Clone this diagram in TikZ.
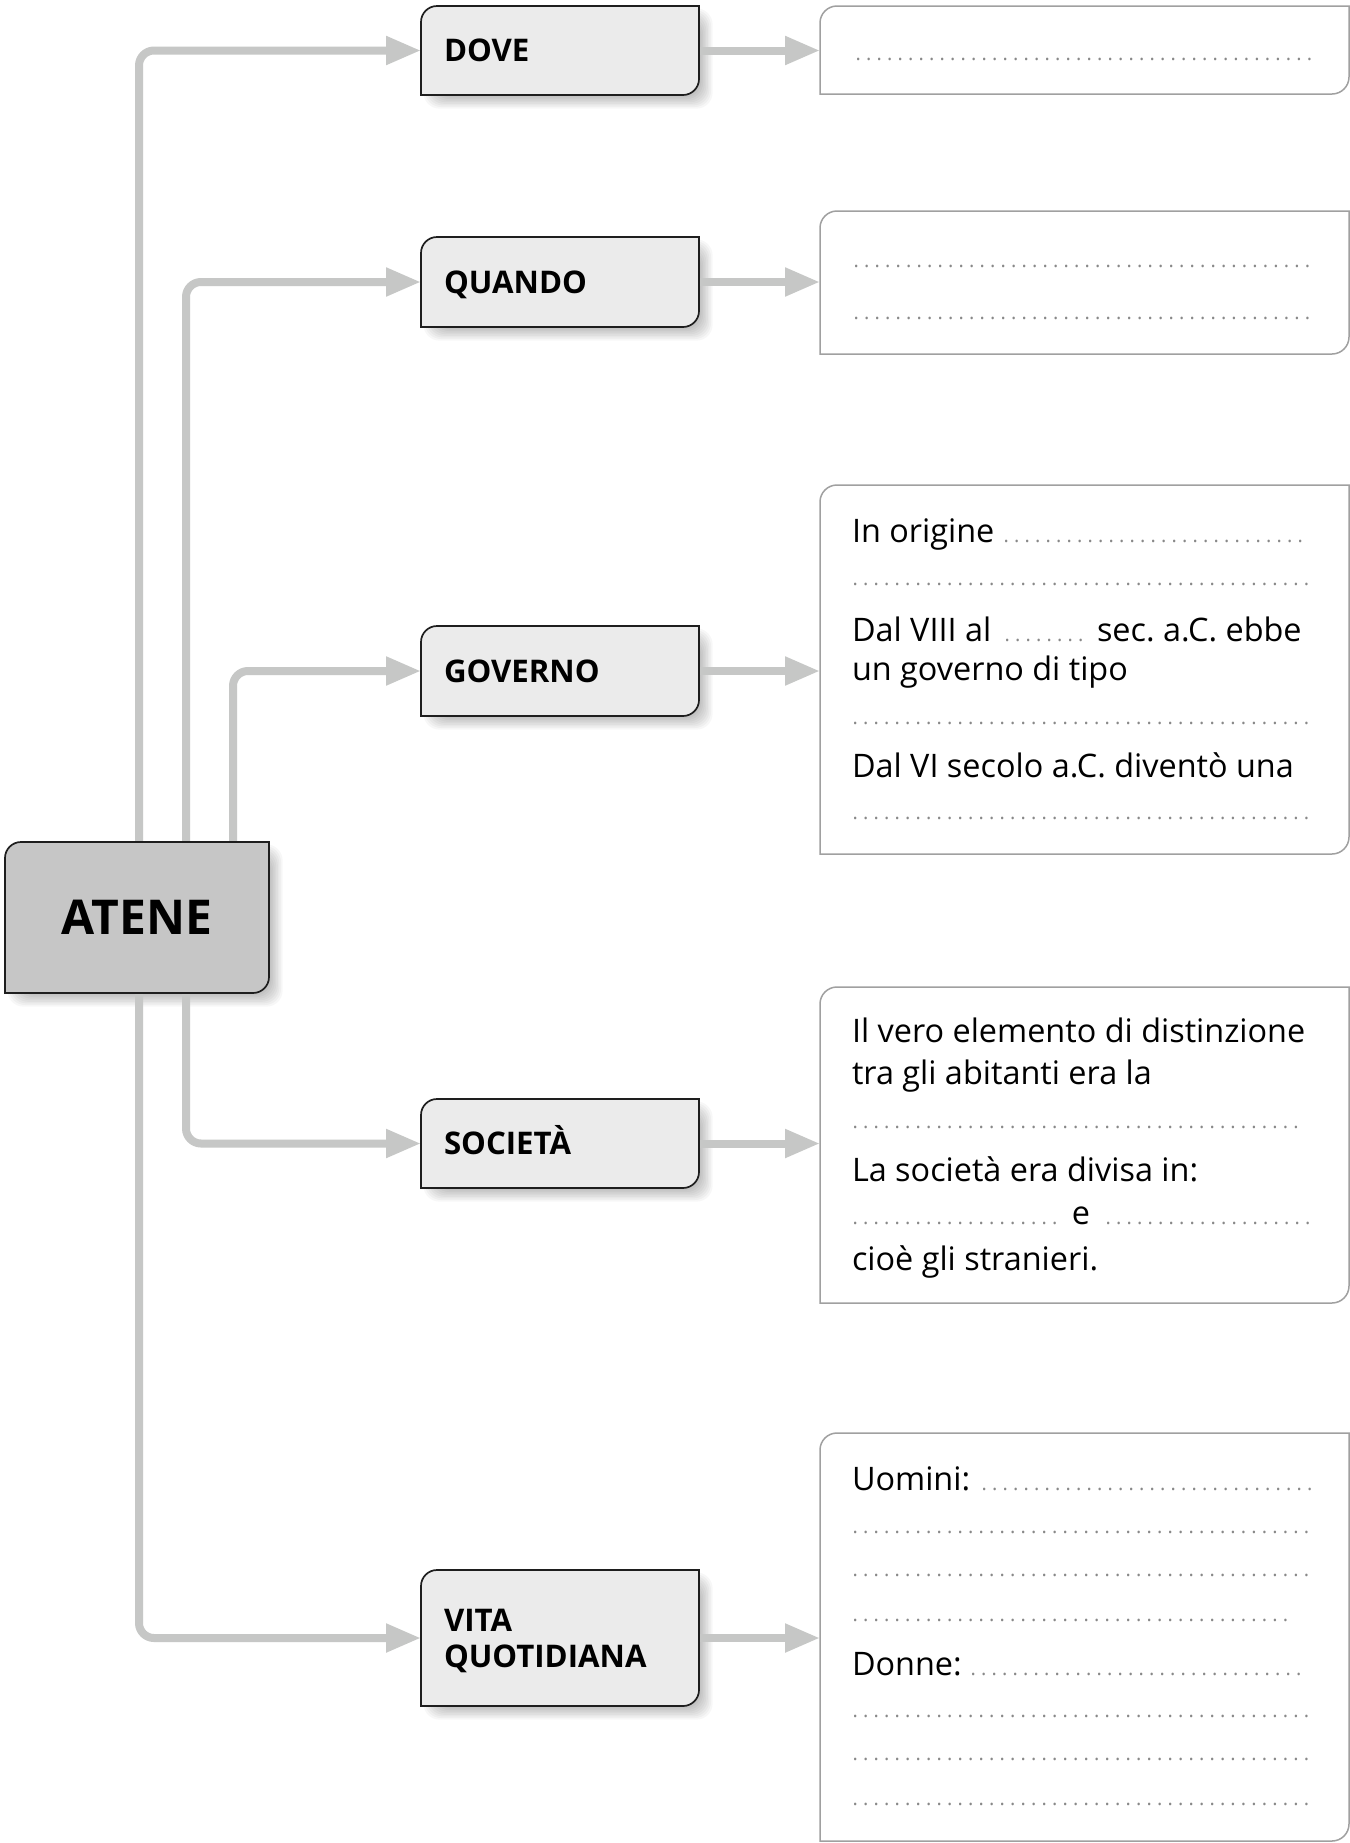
\documentclass[tikz,border=0pt]{standalone}
\usepackage{fontspec}
\setmainfont{Open Sans}
\usetikzlibrary{arrows.meta,calc}
\definecolor{conncol}{HTML}{C6C7C6}
\definecolor{lfill}{HTML}{EBEBEB}
\definecolor{afill}{HTML}{C6C6C6}
\definecolor{bordcol}{HTML}{1E1E1E}
\definecolor{ansbord}{HTML}{A0A0A0}
\definecolor{dotcol}{HTML}{888888}
\pgfdeclarelayer{background}
\pgfsetlayers{background,main}
\frenchspacing
\newcommand\dotrow[1]{{\color{dotcol}\fontsize{10}{10}\selectfont\leaders\hbox to 5.25pt{\hss.\hss}\hskip#1\relax}}
\newcommand\cornerpath[3]{%
  \draw[#3] (#1.south west) -- ([yshift=-#2]#1.north west)
    arc[start angle=180,end angle=90,radius=#2] -- (#1.north east)
    -- ([yshift=#2]#1.south east) arc[start angle=0,end angle=-90,radius=#2] -- cycle;}
\newcommand\softshadow[1]{%
  \foreach \k in {0,...,7}{%
    \fill[black,opacity=0.03,rounded corners=8pt]
      ($(#1.north west)+(1.2pt+\k*0.8pt,-1.2pt-\k*0.8pt)$) rectangle
      ($(#1.south east)+(6.8pt-\k*0.8pt,-6.8pt+\k*0.8pt)$);}}
\begin{document}
\begin{tikzpicture}[x=0.5pt,y=0.5pt,
  lbox/.style={minimum width=139pt,text width=116pt,align=left,inner sep=0pt,outer sep=0pt,
    font=\fontsize{15.6}{18}\selectfont\bfseries},
  onel/.style={text height=11.2pt,text depth=0pt},
  mainbox/.style={minimum width=132pt,minimum height=75.5pt,inner sep=0pt,outer sep=0pt,
    font=\fontsize{24}{28}\selectfont\bfseries},
  abox/.style={minimum width=264.5pt,inner sep=0pt,outer sep=0pt},
  atext/.style={anchor=base west,inner sep=0pt,outer sep=0pt,font=\fontsize{16.2}{20}\selectfont},
  conn/.style={draw=conncol,line width=4pt,rounded corners=7.5pt,-{Triangle[length=17.5pt,width=13.5pt]}},
  lshape/.style={draw=bordcol,fill=lfill,line width=0.85pt},
  mshape/.style={draw=bordcol,fill=afill,line width=0.85pt},
  ashape/.style={draw=ansbord,fill=white,line width=0.75pt}]
\useasboundingbox (0,0) rectangle (1350,-1843);
% main node
\node[mainbox] (atene) at (137,-917.5) {ATENE};
% topic boxes
\node[lbox,onel,minimum height=44.5pt] (dove) at (560,-50.5) {DOVE};
\node[lbox,onel,minimum height=45pt] (quando) at (560,-282) {QUANDO};
\node[lbox,onel,minimum height=45pt] (governo) at (560,-671) {GOVERNO};
\node[lbox,onel,minimum height=44.5pt] (societa) at (560,-1143.5) {SOCIETÀ};
\node[lbox,text height=11.2pt,text depth=18pt,minimum height=68pt] (vita) at (560,-1638) {VITA\\QUOTIDIANA};
% answer boxes
\node[abox,minimum height=44pt] (a1) at (1084.5,-50) {};
\node[abox,minimum height=71.5pt] (a2) at (1084.5,-282.5) {};
\node[abox,minimum height=184.5pt] (a3) at (1084.5,-669.5) {};
\node[abox,minimum height=158pt] (a4) at (1084.5,-1145) {};
\node[abox,minimum height=204pt] (a5) at (1084.5,-1637) {};
% answer texts
\node[atext] (d11) at (853,-60) {\dotrow{234.5pt}};
\node[atext] (d21) at (851,-267) {\dotrow{236pt}};
\node[atext] (d22) at (851,-319) {\dotrow{236pt}};
\node[atext] (t31) at (852,-542) {In origine};
\node[atext] (d31) at (1001,-542) {\dotrow{156.5pt}};
\node[atext] (d32) at (850,-585) {\dotrow{236pt}};
\node[atext] (t32) at (852,-641) {Dal VIII al};
\node[atext] (d33) at (1002,-641) {\dotrow{44pt}};
\node[atext] (t33) at (1097,-641) {sec. a.C. ebbe};
\node[atext] (t34) at (852,-680) {un governo di tipo};
\node[atext] (d34) at (850,-724) {\dotrow{231pt}};
\node[atext] (t35) at (852,-777) {Dal VI secolo a.C. diventò una};
\node[atext] (d35) at (850,-819) {\dotrow{236pt}};
\node[atext] (t41) at (852,-1042) {Il vero elemento di distinzione};
\node[atext] (t42) at (852,-1084) {tra gli abitanti era la};
\node[atext] (d41) at (850,-1128) {\dotrow{230pt}};
\node[atext] (t43) at (852,-1181) {La società era divisa in:};
\node[atext] (d42) at (850,-1224) {\dotrow{107pt}};
\node[atext,anchor=base] (t44) at (1081,-1224) {e};
\node[atext] (d43) at (1103,-1224) {\dotrow{107pt}};
\node[atext] (t45) at (852,-1270) {cioè gli stranieri.};
\node[atext] (t51) at (852,-1490) {Uomini:};
\node[atext] (d51) at (979,-1490) {\dotrow{171pt}};
\node[atext] (d52) at (850,-1533) {\dotrow{231pt}};
\node[atext] (d53) at (850,-1576) {\dotrow{231pt}};
\node[atext] (d54) at (850,-1621) {\dotrow{225pt}};
\node[atext] (t52) at (852,-1675) {Donne:};
\node[atext] (d55) at (968,-1675) {\dotrow{172pt}};
\node[atext] (d56) at (850,-1717) {\dotrow{231pt}};
\node[atext] (d57) at (850,-1760) {\dotrow{231pt}};
\node[atext] (d58) at (850,-1805) {\dotrow{236pt}};
\begin{pgfonlayer}{background}
  \fill[white] (0,0) rectangle (1350,-1843);
  \softshadow{atene}
  \softshadow{dove}
  \softshadow{quando}
  \softshadow{governo}
  \softshadow{societa}
  \softshadow{vita}
  % connectors
  \draw[conn] ([xshift=1pt]atene.north) |- (dove.west);
  \draw[conn] ([xshift=24.5pt]atene.north) |- (quando.west);
  \draw[conn] ([xshift=48pt]atene.north) |- (governo.west);
  \draw[conn] ([xshift=24.5pt]atene.south) |- (societa.west);
  \draw[conn] ([xshift=1pt]atene.south) |- (vita.west);
  \draw[conn] (dove.east) -- (dove.east -| a1.west);
  \draw[conn] (quando.east) -- (quando.east -| a2.west);
  \draw[conn] (governo.east) -- (governo.east -| a3.west);
  \draw[conn] (societa.east) -- (societa.east -| a4.west);
  \draw[conn] (vita.east) -- (vita.east -| a5.west);
  % shapes
  \cornerpath{atene}{8pt}{mshape}
  \cornerpath{dove}{8pt}{lshape}
  \cornerpath{quando}{8pt}{lshape}
  \cornerpath{governo}{8pt}{lshape}
  \cornerpath{societa}{8pt}{lshape}
  \cornerpath{vita}{8pt}{lshape}
  \cornerpath{a1}{8.5pt}{ashape}
  \cornerpath{a2}{8.5pt}{ashape}
  \cornerpath{a3}{8.5pt}{ashape}
  \cornerpath{a4}{8.5pt}{ashape}
  \cornerpath{a5}{8.5pt}{ashape}
\end{pgfonlayer}
\end{tikzpicture}
\end{document}
